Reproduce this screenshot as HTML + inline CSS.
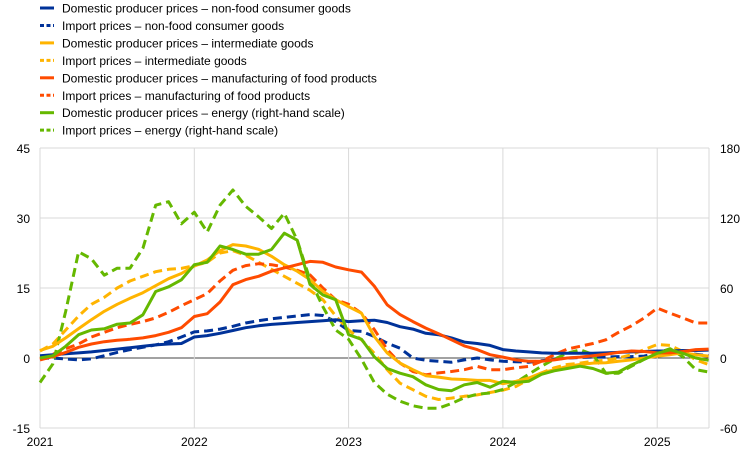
<!DOCTYPE html>
<html><head><meta charset="utf-8"><style>
body{margin:0;background:#fff;font-family:"Liberation Sans",Arial,sans-serif}
svg{display:block}
</style></head><body>
<svg id="chart" width="744" height="454" xmlns="http://www.w3.org/2000/svg" font-family="Liberation Sans, Arial, sans-serif"></svg>
<script>
const yearLabels=["2021","2022","2023","2024","2025"];
const leftTicks=[-15,0,15,30,45];
const rightTicks=[-60,0,60,120,180];
const seriesNames=["Domestic producer prices – non-food consumer goods","Import prices – non-food consumer goods","Domestic producer prices – intermediate goods","Import prices – intermediate goods","Domestic producer prices – manufacturing of food products","Import prices – manufacturing of food products","Domestic producer prices – energy (right-hand scale)","Import prices – energy (right-hand scale)"];
const domNonFood=[0.5,0.7,0.9,1.1,1.3,1.6,1.9,2.2,2.5,2.8,3.0,3.1,4.5,4.8,5.3,5.9,6.5,6.9,7.2,7.4,7.6,7.8,8.0,8.2,7.8,8.0,8.1,7.6,6.7,6.2,5.3,5.0,4.3,3.4,3.1,2.7,1.8,1.5,1.3,1.1,1.0,1.0,1.0,1.0,1.1,1.2,1.3,1.4,1.5,1.5,1.6,1.6,1.7];
const impNonFood=[-0.1,0.0,-0.2,-0.4,-0.2,0.5,1.2,1.8,2.3,2.8,3.5,4.5,5.6,5.8,6.2,6.8,7.5,8.0,8.4,8.7,9.0,9.3,9.1,7.8,5.9,5.7,4.6,3.2,2.1,0.0,-0.5,-0.7,-0.9,-0.4,0.0,-0.4,-0.7,-0.8,-0.9,-0.6,-0.3,0.0,0.1,0.2,0.2,0.3,0.3,0.4,1.1,1.2,1.0,0.8,0.5];
const domInter=[1.6,2.5,4.3,6.3,8.2,10,11.5,12.8,14,15.5,17,18.1,19.7,21,23,24.3,24,23.3,21.8,20,18.6,16.8,14.3,12.5,11,9.6,4.6,1.1,-1.1,-2.5,-3.8,-4.1,-4.5,-4.6,-4.8,-4.8,-5.5,-5.0,-4.3,-3.2,-2.5,-1.8,-1.4,-1.1,-1.0,-0.7,-0.4,0.0,0.4,0.7,1.1,0.7,0.4];
const impInter=[1.5,3,6,9,11.5,13,15,16.5,17.5,18.5,19,19.2,19.8,20.5,22.5,23,22,20.5,19,17.5,16,14.5,12.5,9,6,3.9,1,-2.5,-5.4,-6.8,-8.2,-8.9,-8.6,-8.2,-7.9,-7.4,-6.9,-6.1,-4.6,-3.2,-2.1,-1.4,-1.1,-0.7,-0.5,0.0,0.7,1.8,2.9,2.7,1.4,-0.4,-1.4];
const domFood=[-0.4,0.3,1.2,2.3,3.0,3.5,3.8,4.0,4.3,4.8,5.5,6.5,8.9,9.5,12,15.7,16.8,17.5,18.6,19.3,20,20.7,20.5,19.5,18.9,18.4,15.4,11.4,9.3,7.8,6.4,5.2,3.9,2.6,1.8,0.7,0.2,-0.4,-0.7,-0.7,-0.4,0.0,0.2,0.5,0.8,1.2,1.5,1.4,1.1,1.1,1.4,1.8,1.9];
const impFood=[-0.2,0.8,2,3,4.5,5.5,6.5,7.2,7.8,8.6,9.8,11.2,12.5,13.8,16.5,18.8,19.8,20.2,20,19.5,18.8,17.8,15,12.5,11.5,9.6,6.1,1.8,-1.1,-2.9,-3.6,-3.2,-2.9,-2.5,-1.8,-2.5,-2.5,-2.1,-1.8,-0.7,0.7,1.9,2.5,3.1,3.9,5.5,6.9,8.6,10.7,9.6,8.6,7.5,7.5];
const domEnergy=[0,2,10,20,24,25,29,30,37,57,61,67,80,82,96,93,89,89,93,107,101,63,54,50,20,16,1,-9,-13,-16,-23,-27,-28,-23,-21,-25,-20,-21,-20,-14,-11,-9,-7,-9,-13,-12,-6,-1,4,7,4,0,-2];
const impEnergy=[-21,-5,40,91,85,71,77,77,94,131,134,115,125,108,131,144,130,121,111,124,101,67,44,24,16,-1,-21,-31,-37,-41,-43,-43,-39,-34,-31,-30,-27,-21,-14,-7,-1,4,7,3,-13,-13,-7,-1,4,8,1,-10,-12];

const NS="http://www.w3.org/2000/svg";
const svg=document.getElementById('chart');
const X0=40,X1=709,YT=148,YB=428;
const xOfYear=i=>40+i*154.3;
const xOfMonth=m=>40+m*154.3/12;
const yL=v=>358-(v/15)*70;
const yR=v=>358-(v/60)*70;
function mk(tag,attrs){const e=document.createElementNS(NS,tag);for(const k in attrs)e.setAttribute(k,attrs[k]);svg.appendChild(e);return e;}

// grid
leftTicks.forEach((t,i)=>{
  const g=mk('line',{x1:X0,x2:X1,y1:yL(t),y2:yL(t),stroke:t===0?'#444':'#d9d9d9','stroke-width':1});
  
  
  const l=mk('text',{x:30,y:yL(t)+5,'text-anchor':'end','font-size':12,fill:'#000'});
  l.textContent=t;
  
  
  const r=mk('text',{x:720,y:yR(rightTicks[i])+5,'text-anchor':'start','font-size':12,fill:'#000'});
  r.textContent=rightTicks[i];
  
  
});
yearLabels.forEach((y,i)=>{
  const g=mk('line',{x1:xOfYear(i),x2:xOfYear(i),y1:YT,y2:YB,stroke:'#d9d9d9','stroke-width':1});
  
  
  const t=mk('text',{x:xOfYear(i),y:446,'text-anchor':'middle','font-size':12,fill:'#000'});
  t.textContent=y;
  
  
});
const rb=mk('line',{x1:X1,x2:X1,y1:YT,y2:YB,stroke:'#d9d9d9','stroke-width':1});



const defs=[
 [domNonFood,'#003299',false,yL],[impNonFood,'#003299',true,yL],
 [domInter,'#ffb400',false,yL],[impInter,'#ffb400',true,yL],
 [domFood,'#ff4b00',false,yL],[impFood,'#ff4b00',true,yL],
 [domEnergy,'#65b800',false,yR],[impEnergy,'#65b800',true,yR]];
const keys=['dom-nonfood','imp-nonfood','dom-intermediate','imp-intermediate','dom-food','imp-food','dom-energy','imp-energy'];
const order=[1,3,5,7,0,2,4,6];
order.forEach(i=>{
  const [d,c,dash,sc]=defs[i];
  const pts=d.map((v,m)=>xOfMonth(m).toFixed(1)+','+sc(v).toFixed(1)).join(' ');
  const p=mk('polyline',{points:pts,fill:'none',stroke:c,'stroke-width':3,'stroke-linejoin':'round'});
  if(dash)p.setAttribute('stroke-dasharray','9,5');
  
  
});
// legend
seriesNames.forEach((n,i)=>{
  const y=8+i*17.45;
  const [d,c,dash]=defs[i];
  const l=mk('line',{x1:40,x2:54,y1:y,y2:y,stroke:c,'stroke-width':3});
  if(dash)l.setAttribute('stroke-dasharray','4,2.5');
  
  
  const t=mk('text',{x:62,y:y+4.5,'font-size':12,fill:'#000'});
  t.textContent=n;
  
  
});
</script>
</body></html>
